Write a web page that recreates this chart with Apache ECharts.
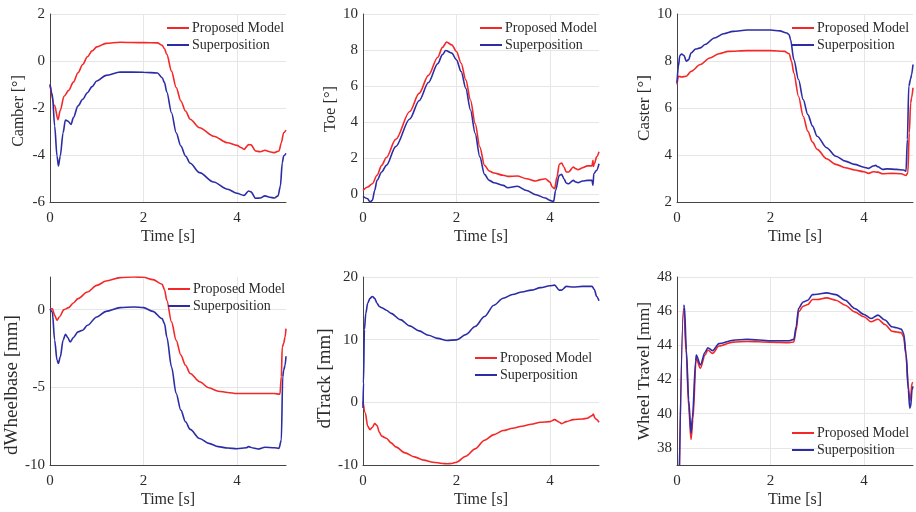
<!DOCTYPE html>
<html>
<head>
<meta charset="utf-8">
<script src="https://cdn.jsdelivr.net/npm/echarts@6/dist/echarts.min.js"></script>
<style>
html,body{margin:0;padding:0;background:#fff;}
#chart{width:916px;height:512px;}
</style>
</head>
<body>
<div id="chart"></div>
<script>
// ---------------- DATA ----------------
const seriesNames = ['Proposed Model', 'Superposition'];
const xTicks = [0, 2, 4];
const xName = 'Time [s]';
const yNames = ['Camber [°]', 'Toe [°]', 'Caster [°]', 'dWheelbase [mm]', 'dTrack [mm]', 'Wheel Travel [mm]'];

const camberProposed = [[0,-1.0],[0.1,-1.9],[0.17,-2.5],[0.22,-2.1],[0.3,-1.5],[0.4,-1.25],[0.5,-0.9],[0.6,-0.5],[0.7,-0.15],[0.8,0.18],[0.9,0.43],[1.0,0.6],[1.2,0.75],[1.5,0.8],[2.0,0.78],[2.3,0.77],[2.4,0.67],[2.45,0.52],[2.5,0.28],[2.6,-0.43],[2.7,-1.13],[2.8,-1.7],[2.9,-2.13],[3.0,-2.48],[3.2,-2.84],[3.5,-3.2],[3.8,-3.48],[4.0,-3.59],[4.1,-3.69],[4.15,-3.76],[4.25,-3.56],[4.3,-3.57],[4.4,-3.83],[4.5,-3.86],[4.6,-3.8],[4.7,-3.86],[4.8,-3.9],[4.9,-3.83],[4.95,-3.48],[5.0,-3.05],[5.05,-2.94]];
const camberSuper = [[0,-1.0],[0.05,-1.42],[0.1,-2.77],[0.15,-4.04],[0.18,-4.47],[0.22,-4.04],[0.28,-3.05],[0.33,-2.51],[0.38,-2.55],[0.45,-2.7],[0.5,-2.41],[0.6,-1.91],[0.7,-1.63],[0.8,-1.35],[0.9,-1.09],[1.0,-0.85],[1.2,-0.61],[1.5,-0.47],[2.0,-0.48],[2.3,-0.51],[2.4,-0.71],[2.45,-0.92],[2.5,-1.32],[2.6,-2.2],[2.7,-3.05],[2.8,-3.62],[2.9,-4.04],[3.0,-4.35],[3.2,-4.75],[3.5,-5.15],[3.8,-5.46],[4.0,-5.63],[4.15,-5.72],[4.25,-5.53],[4.3,-5.57],[4.4,-5.84],[4.5,-5.83],[4.6,-5.74],[4.7,-5.8],[4.8,-5.83],[4.88,-5.74],[4.93,-5.32],[4.97,-4.33],[5.0,-4.04],[5.05,-3.93]];

const toeProposed = [[0,0.22],[0.1,0.41],[0.2,0.59],[0.3,1.06],[0.4,1.61],[0.5,2.05],[0.7,3.05],[1.0,4.6],[1.2,5.6],[1.4,6.6],[1.6,7.6],[1.7,8.15],[1.79,8.44],[1.9,8.29],[2.0,7.92],[2.1,7.27],[2.2,6.35],[2.3,5.23],[2.4,3.93],[2.5,2.63],[2.6,1.61],[2.7,1.3],[2.8,1.19],[3.0,1.06],[3.1,1.0],[3.3,1.02],[3.5,0.87],[3.7,0.74],[3.8,0.82],[3.9,0.87],[4.0,0.69],[4.05,0.41],[4.1,0.32],[4.15,0.96],[4.2,1.67],[4.25,1.74],[4.3,1.52],[4.35,1.24],[4.4,1.24],[4.5,1.52],[4.55,1.43],[4.6,1.37],[4.7,1.48],[4.8,1.58],[4.9,1.58],[4.92,1.89],[4.93,1.55],[4.95,1.7],[5.0,2.08],[5.05,2.36]];
const toeSuper = [[0,-0.11],[0.1,-0.24],[0.15,-0.42],[0.2,-0.33],[0.25,0.22],[0.3,0.78],[0.4,1.24],[0.5,1.61],[0.7,2.65],[1.0,4.18],[1.2,5.19],[1.4,6.2],[1.6,7.25],[1.7,7.75],[1.77,7.98],[1.9,7.83],[2.0,7.46],[2.1,6.81],[2.2,5.88],[2.3,4.68],[2.4,3.38],[2.5,2.08],[2.6,1.11],[2.7,0.78],[2.8,0.65],[3.0,0.5],[3.1,0.37],[3.3,0.45],[3.5,0.22],[3.7,-0.02],[3.9,-0.2],[4.0,-0.33],[4.08,-0.39],[4.12,0.22],[4.2,1.06],[4.25,1.11],[4.3,0.87],[4.35,0.63],[4.4,0.59],[4.5,0.78],[4.55,0.69],[4.6,0.65],[4.7,0.74],[4.8,0.78],[4.9,0.78],[4.92,0.5],[4.94,1.15],[5.0,1.34],[5.05,1.7]];

const casterProposed = [[0,7.0],[0.03,7.35],[0.1,7.32],[0.2,7.35],[0.3,7.56],[0.5,7.85],[0.7,8.13],[0.9,8.31],[1.1,8.41],[1.5,8.44],[2.0,8.44],[2.3,8.41],[2.4,8.31],[2.45,7.99],[2.5,7.49],[2.6,6.5],[2.7,5.65],[2.8,5.01],[2.9,4.55],[3.0,4.24],[3.2,3.84],[3.4,3.6],[3.6,3.46],[3.8,3.36],[4.0,3.29],[4.1,3.22],[4.2,3.29],[4.3,3.27],[4.4,3.2],[4.6,3.22],[4.8,3.2],[4.9,3.13],[4.94,3.24],[4.97,4.94],[5.0,6.22],[5.02,6.43],[5.05,6.86]];
const casterSuper = [[0,7.07],[0.03,7.78],[0.06,8.23],[0.1,8.3],[0.15,8.23],[0.2,7.99],[0.25,8.06],[0.3,8.34],[0.4,8.51],[0.5,8.56],[0.6,8.7],[0.8,8.98],[1.0,9.16],[1.2,9.26],[1.5,9.32],[2.0,9.32],[2.2,9.28],[2.35,9.19],[2.4,9.12],[2.43,8.91],[2.5,8.06],[2.6,7.21],[2.7,6.36],[2.8,5.72],[2.9,5.23],[3.0,4.8],[3.2,4.31],[3.4,3.95],[3.6,3.74],[3.8,3.6],[4.0,3.48],[4.1,3.43],[4.2,3.53],[4.25,3.56],[4.3,3.5],[4.4,3.39],[4.5,3.41],[4.7,3.39],[4.85,3.36],[4.9,3.31],[4.93,4.66],[4.96,6.93],[5.0,7.24],[5.02,7.42],[5.05,7.85]];

const wheelbaseProposed = [[0,0.06],[0.05,0.06],[0.1,-0.36],[0.15,-0.69],[0.2,-0.47],[0.3,0],[0.4,0.13],[0.5,0.43],[0.6,0.71],[0.8,1.13],[1.0,1.56],[1.2,1.84],[1.5,2.06],[1.8,2.1],[2.0,2.08],[2.2,1.93],[2.4,1.63],[2.45,1.28],[2.5,0.6],[2.6,-0.79],[2.7,-1.97],[2.8,-2.93],[2.9,-3.58],[3.0,-4.11],[3.2,-4.64],[3.4,-5.03],[3.6,-5.25],[3.8,-5.33],[4.0,-5.4],[4.4,-5.4],[4.8,-5.4],[4.92,-5.44],[4.95,-4.33],[4.97,-2.4],[5.0,-2.18],[5.03,-1.76],[5.05,-1.22]];
const wheelbaseSuper = [[0,0.04],[0.05,-0.15],[0.1,-1.97],[0.15,-3.25],[0.18,-3.47],[0.22,-3.04],[0.28,-1.97],[0.33,-1.58],[0.38,-1.8],[0.43,-2.08],[0.5,-1.8],[0.6,-1.43],[0.7,-1.33],[0.8,-1.01],[1.0,-0.47],[1.2,-0.11],[1.5,0.13],[1.8,0.17],[2.0,0.13],[2.2,-0.11],[2.4,-0.58],[2.45,-0.9],[2.5,-1.76],[2.6,-3.68],[2.7,-5.4],[2.8,-6.47],[2.9,-7.22],[3.0,-7.71],[3.2,-8.29],[3.4,-8.61],[3.6,-8.82],[3.8,-8.91],[4.0,-8.95],[4.2,-8.89],[4.25,-8.82],[4.35,-8.91],[4.45,-8.97],[4.6,-8.86],[4.8,-8.89],[4.9,-8.93],[4.95,-8.39],[4.98,-4.33],[5.0,-3.9],[5.03,-3.58],[5.05,-3.0]];

const trackProposed = [[0,0.16],[0.05,-1.7],[0.1,-3.8],[0.15,-4.35],[0.2,-3.98],[0.25,-3.4],[0.3,-3.7],[0.35,-4.77],[0.4,-5.4],[0.5,-5.73],[0.6,-6.47],[0.7,-7.1],[0.9,-8.06],[1.1,-8.7],[1.3,-9.23],[1.5,-9.55],[1.7,-9.76],[1.8,-9.81],[1.9,-9.76],[2.0,-9.55],[2.2,-8.6],[2.4,-7.43],[2.6,-6.05],[2.8,-5.15],[3.0,-4.5],[3.2,-4.14],[3.4,-3.82],[3.6,-3.5],[3.8,-3.18],[4.0,-3.08],[4.1,-2.76],[4.2,-3.18],[4.25,-3.4],[4.35,-3.08],[4.5,-2.76],[4.7,-2.65],[4.8,-2.55],[4.9,-2.12],[4.93,-1.86],[4.96,-2.49],[5.0,-2.76],[5.05,-3.18]];
const trackSuper = [[0,-0.9],[0.01,3.08],[0.03,11.6],[0.06,14.2],[0.1,15.8],[0.15,16.6],[0.2,16.9],[0.25,16.6],[0.3,15.8],[0.35,15.3],[0.4,15.1],[0.5,14.7],[0.6,14.2],[0.8,13.2],[1.0,12.2],[1.2,11.4],[1.4,10.7],[1.6,10.2],[1.8,9.87],[2.0,9.97],[2.2,10.8],[2.4,12.1],[2.6,13.7],[2.8,15.5],[3.0,16.6],[3.2,17.2],[3.4,17.6],[3.6,17.9],[3.8,18.3],[4.0,18.6],[4.1,18.7],[4.2,17.9],[4.25,17.9],[4.35,18.5],[4.5,18.4],[4.7,18.5],[4.9,18.5],[4.95,18.0],[5.0,16.9],[5.05,16.2]];

const travelProposed = [[0,28],[0.143,46.16],[0.2,43.5],[0.25,40.4],[0.3,38.49],[0.34,39.65],[0.41,43.24],[0.5,42.66],[0.6,43.44],[0.66,43.73],[0.76,43.53],[0.9,43.96],[1.2,44.19],[1.5,44.23],[2.0,44.19],[2.4,44.16],[2.5,44.2],[2.55,44.9],[2.6,45.96],[2.7,46.29],[2.8,46.39],[2.9,46.68],[3.0,46.68],[3.2,46.78],[3.4,46.64],[3.6,46.35],[3.8,45.96],[4.0,45.67],[4.15,45.38],[4.3,45.53],[4.45,45.22],[4.6,44.83],[4.7,44.78],[4.8,44.74],[4.85,44.5],[4.9,43.44],[4.95,41.6],[4.98,40.78],[5.0,41.0],[5.03,41.8],[5.05,41.83]];
const travelSuper = [[0,28],[0.143,46.35],[0.16,46.25],[0.2,43.73],[0.25,40.8],[0.3,38.87],[0.33,39.8],[0.4,43.1],[0.414,43.44],[0.5,42.85],[0.6,43.6],[0.66,43.86],[0.76,43.69],[0.9,44.1],[1.2,44.3],[1.5,44.35],[2.0,44.27],[2.4,44.27],[2.5,44.35],[2.55,45.09],[2.6,46.16],[2.7,46.54],[2.8,46.64],[2.9,46.97],[3.0,46.99],[3.2,47.07],[3.4,46.97],[3.6,46.64],[3.8,46.16],[4.0,45.81],[4.15,45.57],[4.3,45.77],[4.45,45.48],[4.6,45.09],[4.7,45.03],[4.8,44.95],[4.85,44.7],[4.9,43.53],[4.95,41.4],[4.98,40.33],[5.0,40.43],[5.03,41.4],[5.05,41.6]];

// axis ranges per panel [min, max, interval or null]
const yRanges = [[-6, 2, 2], [-0.42, 10, null], [2, 10, 2], [-10, 2.1, 5], [-10, 20, 10], [37, 48, null]];
const xRange = [0, 5.05, 2];

// ---------------- LAYOUT / STYLE ----------------
const FONT = "'Liberation Serif', 'Times New Roman', serif";
const TXT = '#2b2b2b';
const RED = '#f42828';
const BLUE = '#2c2ca6';
const colLeft = [50, 363, 677];
const rowTop = [14, 277];
const W = 236, H = 188;
const yNameSize = [16, 16.5, 17, 19, 19, 17.5];
const yNameGap = [23.5, 22.5, 23.5, 27.5, 28, 23];
const yNameShift = [6, 2, 0, 28, 15, 0];
const legendPos = [[167, 20], [480, 20], [792, 20], [168, 281], [475, 350], [792, 425]];
const panelData = [
  [camberProposed, camberSuper], [toeProposed, toeSuper], [casterProposed, casterSuper],
  [wheelbaseProposed, wheelbaseSuper], [trackProposed, trackSuper], [travelProposed, travelSuper]
];

const grid = [], xAxis = [], yAxis = [], series = [], legend = [];
for (let i = 0; i < 6; i++) {
  const col = i % 3, row = Math.floor(i / 3);
  grid.push({left: colLeft[col], top: rowTop[row], width: W, height: H, containLabel: false});
  xAxis.push({
    type: 'value', gridIndex: i, min: xRange[0], max: xRange[1], interval: xRange[2],
    name: xName, nameLocation: 'middle', nameGap: 27,
    nameTextStyle: {fontFamily: FONT, fontSize: 16, color: TXT},
    axisLine: {show: true, onZero: false, lineStyle: {color: '#444', width: 1}},
    axisTick: {show: false},
    axisLabel: {fontFamily: FONT, fontSize: 15, color: TXT, margin: 9, showMaxLabel: false, showMinLabel: true},
    splitLine: {show: true, showMaxLine: false, showMinLine: false, lineStyle: {color: '#e6e6e6', width: 1}}
  });
  const yr = yRanges[i];
  const ya = {
    type: 'value', gridIndex: i, min: yr[0], max: yr[1],
    name: yNames[i], nameLocation: 'middle', nameGap: yNameGap[i], nameRotate: 90,
    nameTextStyle: {fontFamily: FONT, fontSize: yNameSize[i], color: TXT, padding: [0, yNameShift[i], 0, 0]},
    axisLine: {show: true, onZero: false, lineStyle: {color: '#444', width: 1}},
    axisTick: {show: false},
    axisLabel: {fontFamily: FONT, fontSize: 15, color: TXT, margin: 5,
      showMinLabel: yr[2] !== null, showMaxLabel: !(i === 3)},
    splitLine: {show: true, showMinLine: false, showMaxLine: i !== 3, lineStyle: {color: '#e6e6e6', width: 1}}
  };
  if (yr[2] !== null) ya.interval = yr[2]; else ya.splitNumber = 5;
  yAxis.push(ya);
  [RED, BLUE].forEach((c, k) => {
    series.push({
      type: 'line', name: seriesNames[k], xAxisIndex: i, yAxisIndex: i,
      data: panelData[i][k], symbol: 'none', smooth: 0.3, smoothMonotone: 'x',
      lineStyle: {color: c, width: 1.6}, itemStyle: {color: c}, clip: true, animation: false
    });
  });
  legend.push({
    data: seriesNames.map(n => ({name: n, icon: 'rect'})), orient: 'vertical',
    left: legendPos[i][0], top: legendPos[i][1],
    padding: 0, itemGap: 1, itemWidth: 22, itemHeight: 2,
    textStyle: {fontFamily: FONT, fontSize: 14, color: TXT, lineHeight: 16, padding: [0,0,0,-2]},
    selectedMode: false
  });
}

const chart = echarts.init(document.getElementById('chart'), null, {renderer: 'canvas'});
chart.setOption({animation: false, backgroundColor: '#fff', grid, xAxis, yAxis, series, legend});
</script>
</body>
</html>
